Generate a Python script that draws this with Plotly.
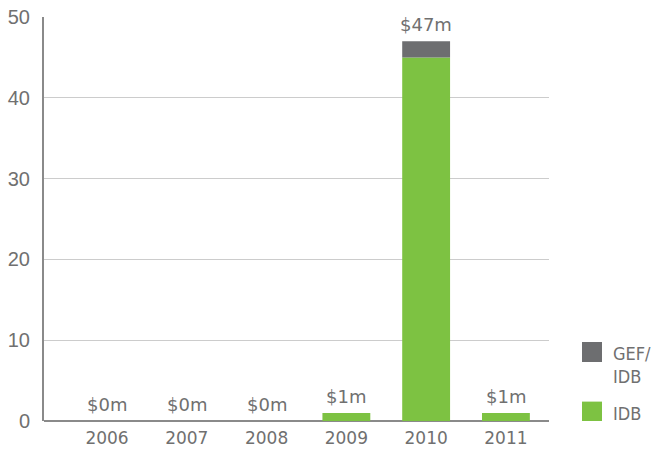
import plotly.graph_objects as go

years = ["2006", "2007", "2008", "2009", "2010", "2011"]
idb = [0, 0, 0, 1, 45, 1]
gef_idb = [0, 0, 0, 0, 2, 0]
labels = ["$0m", "$0m", "$0m", "$1m", "$47m", "$1m"]
series_names = ["GEF/<br>IDB", "IDB"]

xs = list(range(len(years)))
totals = [a + b for a, b in zip(idb, gef_idb)]

green = "#7dc242"
gray = "#6d6e70"
txt = "#707070"
font_x = "DejaVu Sans, sans-serif"
font_y = "Liberation Sans, Arial, sans-serif"
font_leg = "DejaVu Sans Condensed, Liberation Sans Narrow, sans-serif"

fig = go.Figure()
fig.add_trace(go.Bar(x=xs, y=idb, name="IDB", marker_color=green, width=0.6,
                     marker_line_width=0, showlegend=False))
fig.add_trace(go.Bar(x=xs, y=gef_idb, base=idb, name="GEF/IDB", marker_color=gray,
                     width=0.6, marker_line_width=0, showlegend=False))

annotations = []
# value labels above each stack
for x, t, lab in zip(xs, totals, labels):
    annotations.append(dict(x=x, y=t, xref="x", yref="y", text=lab, showarrow=False,
                            xanchor="center", yanchor="bottom", yshift=4,
                            font=dict(size=18, color=txt, family=font_x)))

# manual legend (paper coordinates)
leg_colors = [gray, green]
leg_y = [(0.146, 0.1955), (0.0, 0.048)]
shapes = []
for name, col, (y0, y1) in zip(series_names, leg_colors, leg_y):
    shapes.append(dict(type="rect", xref="paper", yref="paper", x0=1.0653, x1=1.105,
                       y0=y0, y1=y1, fillcolor=col, line_width=0))
    annotations.append(dict(xref="paper", yref="paper", x=1.122, y=y1 + 0.002,
                            xanchor="left", yanchor="top", text=name, showarrow=False,
                            align="left",
                            font=dict(size=18, color=txt, family=font_leg)))

fig.update_layout(
    width=666, height=449,
    margin=dict(l=44, r=117, t=17, b=28, autoexpand=False),
    paper_bgcolor="white", plot_bgcolor="white",
    barmode="overlay",
    showlegend=False,
    shapes=shapes,
    annotations=annotations,
)
fig.update_xaxes(range=[-0.79, 5.54], tickvals=xs, ticktext=years, showgrid=False,
                 zeroline=False, showline=False, ticks="", automargin=False,
                 ticklabelstandoff=5,
                 tickfont=dict(size=17, color=txt, family=font_x))
fig.update_yaxes(range=[0, 50], tickvals=[0, 10, 20, 30, 40, 50], showgrid=True,
                 gridcolor="#cccccc", gridwidth=1, zeroline=True, zerolinecolor="#8a8a8a",
                 zerolinewidth=2, showline=True, linecolor="#8a8a8a", linewidth=2,
                 ticks="", automargin=False, ticklabelstandoff=8,
                 tickfont=dict(size=20, color=txt, family=font_y))
fig.write_html("out.html", config={"displayModeBar": False},
               post_script="document.body.style.margin='0';document.body.style.overflow='hidden';")
